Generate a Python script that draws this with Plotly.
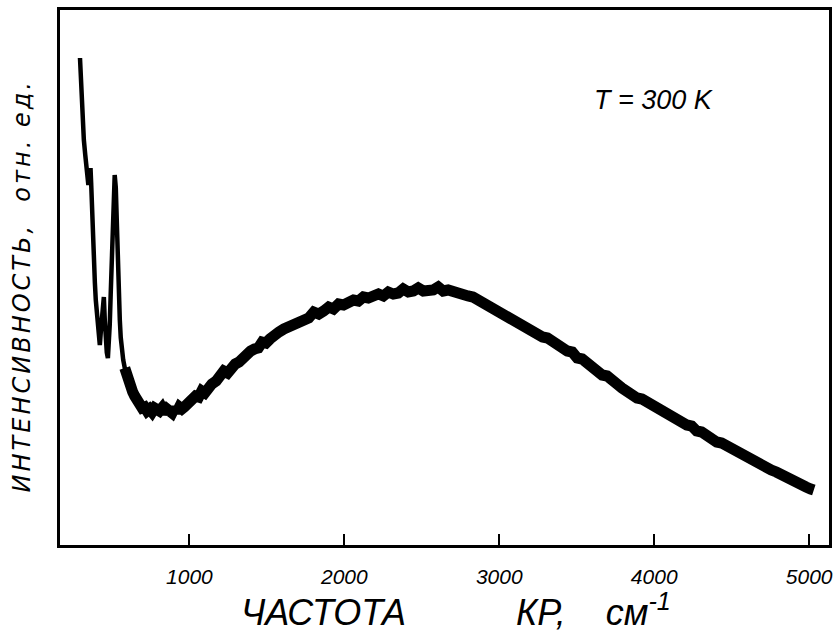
import plotly.graph_objects as go

# Raman frequency shift (cm^-1) and intensity (arb. units) -- low-frequency peaks
freq_low = [294, 298, 303, 310, 319, 328, 335, 342, 348, 353, 358, 362, 366, 371, 378, 384,
            390, 396, 403, 409, 415, 422, 428, 435, 441, 448, 454, 460, 467, 474, 480, 486,
            492, 499, 505, 512, 518, 525, 531, 538, 544, 551, 557, 563, 573, 583, 592, 602]
int_low = [97.4, 94.0, 89.0, 84.5, 81.0, 78.0, 76.0, 73.5, 72.0, 73.5, 75.0, 75.4, 72.5, 67.0,
           61.0, 56.5, 52.5, 49.0, 46.0, 43.5, 41.5, 40.0, 42.5, 45.5, 48.0, 49.6, 45.0, 41.0,
           38.5, 37.4, 40.0, 44.0, 50.0, 57.0, 64.0, 70.5, 74.0, 71.5, 64.0, 56.5, 50.0, 45.0,
           41.5, 39.0, 37.0, 35.4, 34.2, 33.4]

# Broad band
freq_band = [583, 592, 602, 611, 621, 634, 647, 663, 679, 695, 711, 727, 743, 759, 775, 791,
             807, 823, 839, 856, 872, 888, 904, 920, 936, 952, 968, 984,
             1000, 1020, 1040, 1060, 1080, 1100, 1120, 1145, 1173, 1198, 1222, 1247, 1270, 1296,
             1321, 1345, 1370, 1395, 1420, 1445, 1470, 1494, 1520, 1546, 1578, 1610, 1642, 1674,
             1706, 1740, 1770, 1803, 1835, 1867, 1899, 1930, 1963, 1995, 2027, 2059, 2091, 2123,
             2155, 2188, 2220, 2252, 2284, 2316, 2348, 2380, 2413, 2445, 2477, 2510, 2542, 2574,
             2606, 2638, 2670, 2702, 2734, 2766, 2798, 2830, 2862, 2894, 2926, 2958, 2990, 3022,
             3054, 3086, 3118, 3150, 3182, 3214, 3247, 3279, 3311, 3343, 3375, 3407, 3439, 3471,
             3503, 3535, 3568, 3600, 3632, 3664, 3696, 3728, 3760, 3792, 3824, 3857, 3889, 3921,
             3953, 3985, 4017, 4049, 4081, 4113, 4146, 4178, 4210, 4242, 4274, 4306, 4338, 4370,
             4403, 4435, 4467, 4499, 4531, 4563, 4595, 4627, 4659, 4691, 4724, 4756, 4788, 4820,
             4852, 4884, 4916, 4948, 4980, 5010, 5030]
int_band = [35.4, 34.2, 33.4, 32.6, 31.8, 30.6, 29.8, 28.8, 28.4, 27.4, 27.6, 26.8, 27.2, 26.6, 27.4, 26.8,
            26.8, 27.4, 26.4, 27.2, 26.8, 26.4, 27.4, 26.6, 27.6, 27.2, 27.6, 28.2,
            28.6, 29.0, 29.8, 29.6, 30.8, 30.4, 31.4, 32.2, 32.8, 33.6, 34.8, 34.4, 35.6, 36.2,
            36.6, 37.6, 37.8, 38.8, 39.2, 39.4, 40.6, 40.4, 41.2, 42.2, 42.6, 43.2, 43.6, 44.4,
            44.6, 45.4, 45.4, 46.6, 46.2, 46.8, 47.6, 47.2, 48.2, 48.0, 48.4, 49.0, 48.8, 49.6,
            49.4, 49.8, 50.2, 49.8, 50.6, 50.2, 50.4, 51.2, 50.6, 50.8, 51.4, 50.8, 50.8, 51.0,
            51.6, 50.8, 51.0, 50.6, 50.6, 50.2, 49.8, 49.6, 49.0, 48.8, 48.0, 47.6, 46.8, 46.6,
            45.6, 45.4, 44.4, 44.2, 43.2, 43.0, 42.4, 41.6, 41.4, 40.6, 40.4, 39.6, 38.8, 38.6,
            37.4, 37.2, 36.2, 35.6, 35.0, 34.0, 33.8, 32.6, 32.2, 31.4, 30.6, 30.4, 29.4, 29.2,
            28.6, 27.8, 27.6, 26.8, 26.2, 26.0, 25.0, 24.8, 24.0, 23.8, 22.8, 22.6, 21.8, 21.6,
            20.6, 20.4, 19.8, 19.2, 18.8, 18.4, 17.6, 17.4, 16.4, 16.2, 15.6, 15.0, 14.6, 14.0,
            13.4, 13.0, 12.4, 12.0, 11.6, 11.2, 11.0]

tick_vals = [1000, 2000, 3000, 4000, 5000]
tick_text = ["1000", "2000", "3000", "4000", "5000"]

fig = go.Figure()
fig.add_trace(go.Scatter(x=freq_low, y=int_low, mode="lines",
                         line=dict(color="black", width=4.5), showlegend=False))
fig.add_trace(go.Scatter(x=freq_band, y=int_band, mode="lines",
                         line=dict(color="black", width=11), showlegend=False))

font_main = "Liberation Sans"
nb = "\u00a0"

fig.update_layout(
    width=840, height=641,
    margin=dict(l=60, r=7, t=10, b=96),
    paper_bgcolor="white", plot_bgcolor="white",
    xaxis=dict(range=[165, 5128], showline=True, mirror=True, linecolor="black",
               linewidth=2.5, showgrid=False, zeroline=False,
               ticks="inside", ticklen=11, tickwidth=2, tickcolor="black",
               tickvals=tick_vals, ticktext=tick_text, ticklabelstandoff=11,
               tickfont=dict(family=font_main, size=21, color="black", style="italic")),
    yaxis=dict(range=[0, 107], showline=True, mirror=True, linecolor="black",
               linewidth=2.5, showgrid=False, zeroline=False, showticklabels=False,
               ticks=""),
    annotations=[
        dict(text="ЧАСТОТА" + nb * 11 + "КР," + nb * 4 + "см<sup>-1</sup>",
             xref="paper", yref="paper",
             x=(240 - 60) / 773, y=-0.1215, showarrow=False, xanchor="left", yanchor="middle",
             font=dict(family=font_main, size=36, color="black", style="italic")),
        dict(text="<span style='letter-spacing:3px'>ИНТЕНСИВНОСТЬ," + nb * 2 + "отн." + nb + "ед.</span>",
             xref="paper", yref="paper",
             x=-0.049, y=0.484, textangle=-90, showarrow=False,
             xanchor="center", yanchor="middle",
             font=dict(family="DejaVu Sans", size=24, color="black", style="italic")),
        dict(text="T = 300 K", xref="paper", yref="paper", x=(657 - 60) / 773, y=0.832,
             showarrow=False, xanchor="center", yanchor="middle",
             font=dict(family=font_main, size=27, color="black", style="italic")),
    ],
)

fig.write_html("out.html", config={"displayModeBar": False},
               post_script="document.body.style.margin='0px';document.body.style.overflow='hidden';")
